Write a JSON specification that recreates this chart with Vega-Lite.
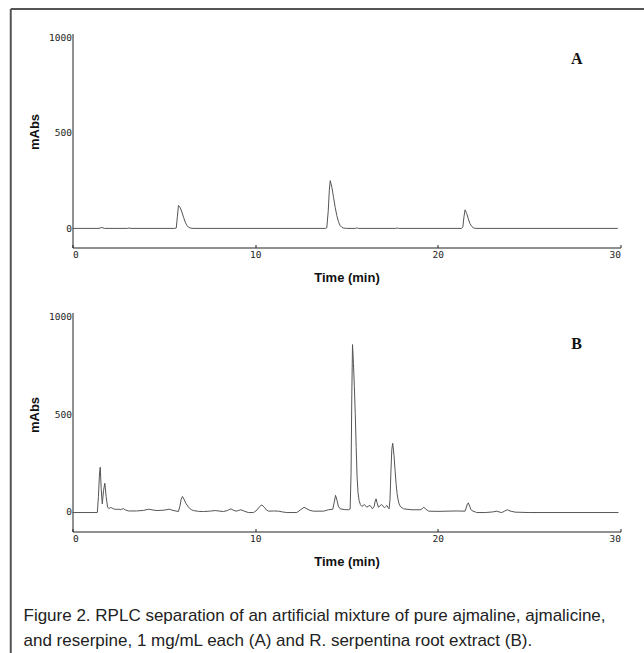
{
  "$schema": "https://vega.github.io/schema/vega-lite/v6.json",
  "padding": {"left": 9.5, "top": 7.5, "right": 0, "bottom": 0},
  "bounds": "flush",
  "spacing": 65,
  "background": "white",
  "config": {
    "view": {"stroke": null},
    "axis": {
      "grid": false,
      "domainColor": "#222",
      "domainWidth": 1,
      "tickColor": "#222",
      "labelFont": "DejaVu Sans Mono",
      "labelFontSize": 9.5,
      "labelColor": "#222",
      "titleFont": "Liberation Sans",
      "titleFontWeight": "bold",
      "titleFontSize": 13,
      "titleColor": "#111"
    }
  },
  "datasets": {
    "a": [
      {"t": 0, "v": 0}, {"t": 1.45, "v": 0}, {"t": 1.6, "v": 5}, {"t": 1.75, "v": 0}, {"t": 3.0, "v": 0}, {"t": 3.1, "v": 2}, {"t": 3.2, "v": 0},
      {"t": 5.6, "v": 0}, {"t": 5.68, "v": 2}, {"t": 5.74, "v": 60}, {"t": 5.8, "v": 120}, {"t": 5.9, "v": 108}, {"t": 5.99, "v": 85}, {"t": 6.08, "v": 58}, {"t": 6.17, "v": 33}, {"t": 6.26, "v": 16}, {"t": 6.35, "v": 6}, {"t": 6.45, "v": 2}, {"t": 6.6, "v": 0},
      {"t": 13.85, "v": 0}, {"t": 13.92, "v": 3}, {"t": 14.0, "v": 90}, {"t": 14.06, "v": 200}, {"t": 14.11, "v": 250}, {"t": 14.2, "v": 215}, {"t": 14.29, "v": 163}, {"t": 14.38, "v": 110}, {"t": 14.47, "v": 67}, {"t": 14.56, "v": 35}, {"t": 14.65, "v": 15}, {"t": 14.74, "v": 6}, {"t": 14.83, "v": 2}, {"t": 15.0, "v": 0},
      {"t": 15.5, "v": 0}, {"t": 15.57, "v": 3}, {"t": 15.65, "v": 0}, {"t": 17.7, "v": 0}, {"t": 17.77, "v": 2}, {"t": 17.85, "v": 0},
      {"t": 21.3, "v": 0}, {"t": 21.37, "v": 8}, {"t": 21.43, "v": 60}, {"t": 21.49, "v": 97}, {"t": 21.58, "v": 78}, {"t": 21.67, "v": 50}, {"t": 21.76, "v": 25}, {"t": 21.86, "v": 10}, {"t": 21.95, "v": 3}, {"t": 22.05, "v": 0},
      {"t": 29.85, "v": 0}
    ],
    "b": [
      {"t": 0, "v": -3}, {"t": 1.36, "v": -3}, {"t": 1.42, "v": 80}, {"t": 1.48, "v": 200}, {"t": 1.52, "v": 229}, {"t": 1.57, "v": 120}, {"t": 1.63, "v": 41}, {"t": 1.7, "v": 110}, {"t": 1.77, "v": 147}, {"t": 1.84, "v": 80}, {"t": 1.92, "v": 24},
      {"t": 2.0, "v": 18}, {"t": 2.08, "v": 22}, {"t": 2.15, "v": 21}, {"t": 2.25, "v": 15}, {"t": 2.34, "v": 14}, {"t": 2.45, "v": 13}, {"t": 2.55, "v": 14}, {"t": 2.61, "v": 12}, {"t": 2.7, "v": 14}, {"t": 2.79, "v": 17}, {"t": 2.9, "v": 10}, {"t": 3.07, "v": 5},
      {"t": 3.5, "v": 5}, {"t": 3.9, "v": 8}, {"t": 4.16, "v": 14}, {"t": 4.4, "v": 10}, {"t": 4.62, "v": 7}, {"t": 5.0, "v": 9}, {"t": 5.31, "v": 14}, {"t": 5.5, "v": 8}, {"t": 5.8, "v": 2},
      {"t": 5.88, "v": 30}, {"t": 5.95, "v": 65}, {"t": 6.02, "v": 79}, {"t": 6.1, "v": 66}, {"t": 6.2, "v": 45}, {"t": 6.35, "v": 24}, {"t": 6.5, "v": 12}, {"t": 6.62, "v": 7}, {"t": 6.9, "v": 3}, {"t": 7.17, "v": 2},
      {"t": 7.5, "v": 4}, {"t": 7.81, "v": 7}, {"t": 8.27, "v": 2}, {"t": 8.5, "v": 8}, {"t": 8.67, "v": 16}, {"t": 8.8, "v": 9}, {"t": 8.96, "v": 4}, {"t": 9.1, "v": 8}, {"t": 9.22, "v": 11}, {"t": 9.4, "v": 4}, {"t": 9.63, "v": -3}, {"t": 9.91, "v": -3},
      {"t": 10.1, "v": 10}, {"t": 10.25, "v": 28}, {"t": 10.37, "v": 36}, {"t": 10.5, "v": 24}, {"t": 10.62, "v": 10}, {"t": 10.73, "v": 4}, {"t": 11.0, "v": 5}, {"t": 11.28, "v": 4}, {"t": 11.5, "v": 0}, {"t": 11.73, "v": -3}, {"t": 12.28, "v": -3},
      {"t": 12.5, "v": 12}, {"t": 12.68, "v": 24}, {"t": 12.85, "v": 15}, {"t": 13.0, "v": 8}, {"t": 13.19, "v": 4}, {"t": 13.74, "v": 4}, {"t": 14.01, "v": 11},
      {"t": 14.25, "v": 14}, {"t": 14.33, "v": 50}, {"t": 14.4, "v": 85}, {"t": 14.48, "v": 60}, {"t": 14.55, "v": 30}, {"t": 14.65, "v": 16}, {"t": 14.9, "v": 12}, {"t": 15.11, "v": 11},
      {"t": 15.2, "v": 15}, {"t": 15.25, "v": 200}, {"t": 15.29, "v": 600}, {"t": 15.33, "v": 856}, {"t": 15.38, "v": 760}, {"t": 15.43, "v": 640}, {"t": 15.48, "v": 502}, {"t": 15.53, "v": 330}, {"t": 15.58, "v": 178}, {"t": 15.63, "v": 100}, {"t": 15.69, "v": 58}, {"t": 15.76, "v": 38}, {"t": 15.84, "v": 28},
      {"t": 15.91, "v": 33}, {"t": 15.98, "v": 38}, {"t": 16.05, "v": 30}, {"t": 16.11, "v": 24}, {"t": 16.2, "v": 30}, {"t": 16.29, "v": 33}, {"t": 16.36, "v": 24}, {"t": 16.42, "v": 16},
      {"t": 16.52, "v": 30}, {"t": 16.57, "v": 55}, {"t": 16.62, "v": 67}, {"t": 16.68, "v": 45}, {"t": 16.75, "v": 24}, {"t": 16.84, "v": 32}, {"t": 16.93, "v": 38}, {"t": 17.0, "v": 30}, {"t": 17.08, "v": 21}, {"t": 17.15, "v": 28}, {"t": 17.21, "v": 33}, {"t": 17.28, "v": 22}, {"t": 17.33, "v": 16},
      {"t": 17.38, "v": 60}, {"t": 17.43, "v": 200}, {"t": 17.48, "v": 320}, {"t": 17.53, "v": 351}, {"t": 17.6, "v": 290}, {"t": 17.66, "v": 212}, {"t": 17.72, "v": 140}, {"t": 17.77, "v": 93}, {"t": 17.83, "v": 60}, {"t": 17.88, "v": 41}, {"t": 17.95, "v": 28}, {"t": 18.12, "v": 16},
      {"t": 18.58, "v": 11}, {"t": 19.03, "v": 11}, {"t": 19.13, "v": 15}, {"t": 19.23, "v": 24}, {"t": 19.35, "v": 14}, {"t": 19.49, "v": 4}, {"t": 20.0, "v": 3}, {"t": 20.5, "v": 4}, {"t": 21.0, "v": 5}, {"t": 21.49, "v": 4},
      {"t": 21.55, "v": 20}, {"t": 21.62, "v": 42}, {"t": 21.67, "v": 46}, {"t": 21.74, "v": 30}, {"t": 21.8, "v": 15}, {"t": 21.86, "v": 7}, {"t": 22.13, "v": -3}, {"t": 22.6, "v": -3},
      {"t": 23.0, "v": 0}, {"t": 23.23, "v": 4}, {"t": 23.35, "v": 0}, {"t": 23.5, "v": -3}, {"t": 23.65, "v": 4}, {"t": 23.81, "v": 11}, {"t": 23.95, "v": 5}, {"t": 24.23, "v": -1}, {"t": 25.0, "v": -3}, {"t": 29.89, "v": -3}
    ]
  },
  "vconcat": [
    {
      "width": 548,
      "height": 214,
      "layer": [
        {
          "data": {"name": "a"},
          "mark": {"type": "line", "color": "#555", "strokeWidth": 1},
          "encoding": {
            "x": {"field": "t", "type": "quantitative", "scale": {"domain": [0, 30], "nice": false},
                  "axis": {"title": "Time (min)", "values": [0, 10, 20, 30], "format": "d", "tickSize": -3, "labelPadding": 5, "titlePadding": 12}},
            "y": {"field": "v", "type": "quantitative", "scale": {"domain": [-100, 1020], "nice": false, "zero": false},
                  "axis": {"title": "mAbs", "values": [0, 500, 1000], "format": "d", "ticks": false, "labelPadding": 1, "titlePadding": 7, "titleY": 98}}
          }
        },
        {
          "data": {"values": [{"label": "A"}]},
          "mark": {"type": "text", "font": "Liberation Serif", "fontWeight": "bold", "fontSize": 16, "color": "#111"},
          "encoding": {
            "x": {"datum": 27.6, "type": "quantitative"},
            "y": {"datum": 884, "type": "quantitative"},
            "text": {"field": "label"}
          }
        },
        {
          "data": {"values": [{"side": "left"}]},
          "mark": {"type": "rule", "color": "#555", "strokeWidth": 2},
          "encoding": {
            "x": {"datum": -3.38, "type": "quantitative"},
            "y": {"datum": 1148, "type": "quantitative"},
            "y2": {"datum": -2224}
          }
        },
        {
          "data": {"values": [{"side": "top"}]},
          "mark": {"type": "rule", "color": "#555", "strokeWidth": 2},
          "encoding": {
            "x": {"datum": -3.38, "type": "quantitative"},
            "x2": {"datum": 31.29},
            "y": {"datum": 1148, "type": "quantitative"}
          }
        }
      ]
    },
    {
      "width": 548,
      "height": 219,
      "title": {
        "text": ["Figure 2. RPLC separation of an artificial mixture of pure ajmaline, ajmalicine,", "and reserpine, 1 mg/mL each (A) and R. serpentina root extract (B)."],
        "orient": "bottom",
        "anchor": "start",
        "frame": "group",
        "dx": -49,
        "offset": 40,
        "font": "Liberation Sans",
        "fontSize": 17,
        "fontWeight": "normal",
        "color": "#222",
        "lineHeight": 25
      },
      "layer": [
        {
          "data": {"name": "b"},
          "mark": {"type": "line", "color": "#555", "strokeWidth": 1},
          "encoding": {
            "x": {"field": "t", "type": "quantitative", "scale": {"domain": [0, 30], "nice": false},
                  "axis": {"title": "Time (min)", "values": [0, 10, 20, 30], "format": "d", "tickSize": -3, "labelPadding": 5, "titlePadding": 12}},
            "y": {"field": "v", "type": "quantitative", "scale": {"domain": [-100, 1020], "nice": false, "zero": false},
                  "axis": {"title": "mAbs", "values": [0, 500, 1000], "format": "d", "ticks": false, "labelPadding": 1, "titlePadding": 7, "titleY": 102}}
          }
        },
        {
          "data": {"values": [{"label": "B"}]},
          "mark": {"type": "text", "font": "Liberation Serif", "fontWeight": "bold", "fontSize": 16, "color": "#111"},
          "encoding": {
            "x": {"datum": 27.6, "type": "quantitative"},
            "y": {"datum": 861, "type": "quantitative"},
            "text": {"field": "label"}
          }
        }
      ]
    }
  ]
}
